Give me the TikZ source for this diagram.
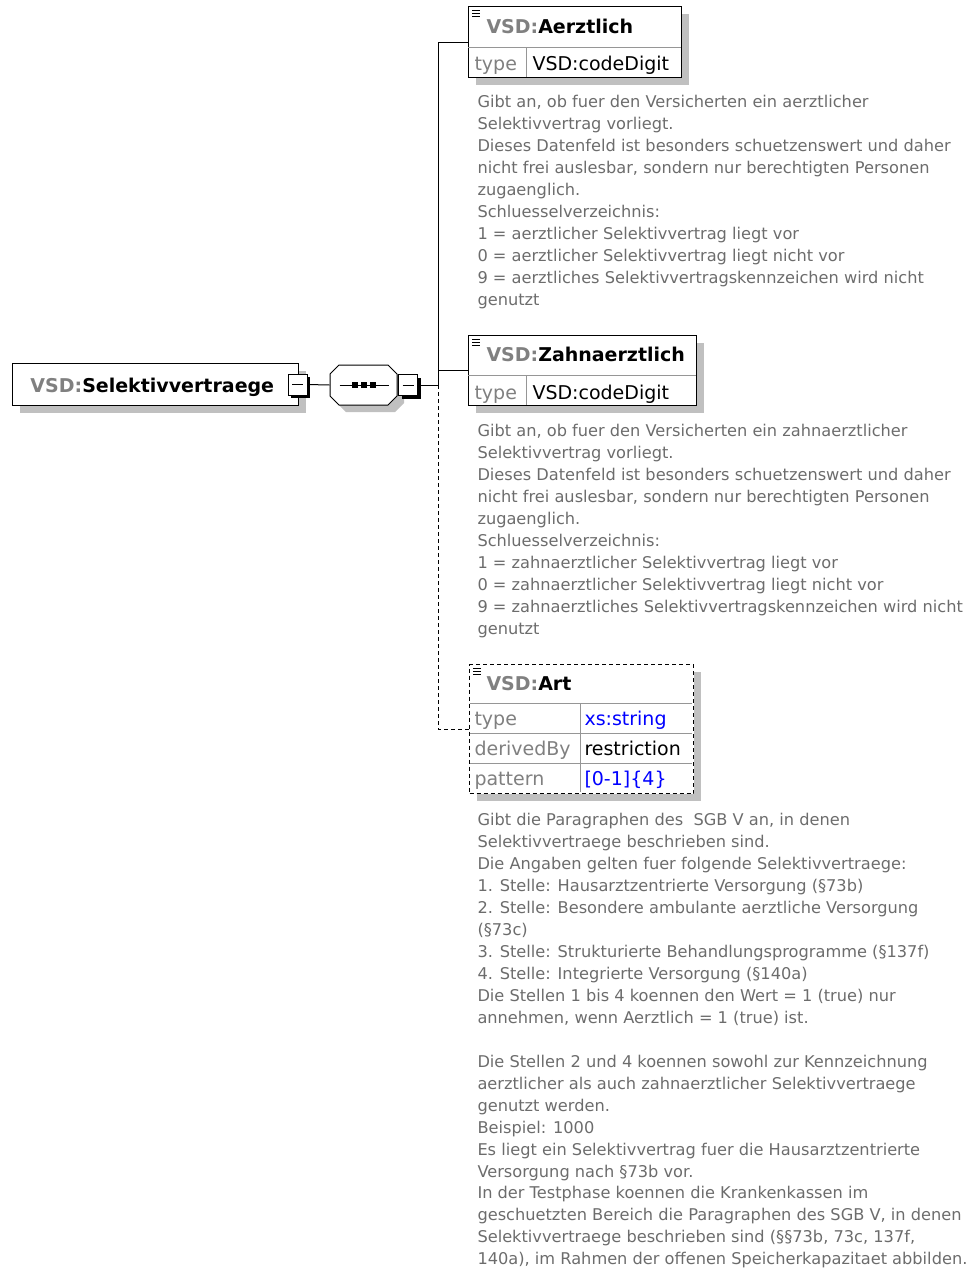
\documentclass[tikz,border=0pt]{standalone}
\usepackage{fontspec}
\setmainfont{DejaVu Sans}
\usetikzlibrary{shadows}

\definecolor{shadowgray}{RGB}{192,192,192}
\definecolor{nsgray}{RGB}{128,128,128}
\definecolor{docgray}{RGB}{108,108,108}
\definecolor{rowgray}{RGB}{150,150,150}
\definecolor{typeblue}{RGB}{0,0,255}

\newcommand{\ns}{\textcolor{nsgray}{VSD:}}

\tikzset{
  shadowed/.style={general shadow={fill=shadowgray, shadow xshift=7pt, shadow yshift=-7pt}},
  elembox/.style={draw, line width=1pt, fill=white, anchor=north west, inner sep=0pt, shadowed},
  minusbox/.style={draw, line width=1pt, fill=white, minimum width=19pt, minimum height=21pt, inner sep=0pt,
    general shadow={fill=black, shadow xshift=3pt, shadow yshift=-3pt},
    path picture={\draw ([xshift=4pt]path picture bounding box.west) -- ([xshift=-4pt]path picture bounding box.east);}},
  seqbox/.style={minimum width=67pt, minimum height=40pt, inner sep=0pt},
  octpath/.style={insert path={++(-24.5,-20) -- ++(49,0) -- ++(9,9) -- ++(0,22) -- ++(-9,9) -- ++(-49,0) -- ++(-9,-9) -- ++(0,-22) -- cycle}},
  ename/.style={anchor=base west, inner sep=0pt, font=\fontsize{19}{22}\selectfont\bfseries},
  cell/.style={anchor=base west, inner sep=0pt, font=\fontsize{19}{22}\selectfont},
  doc/.style={anchor=north west, inner sep=0pt, align=left, text=docgray, font=\fontsize{16.2}{21.95}\selectfont},
  rowline/.style={draw=rowgray, line width=1pt},
  dashedline/.style={dash pattern=on 4pt off 3pt},
}

\begin{document}
\begin{tikzpicture}[x=1pt,y=-1pt,line width=1pt]
\useasboundingbox (0,0) rectangle (974,1270);

% root element and sequence
\node[elembox, minimum width=286, minimum height=42] (root) at (12,363) {};
\node[ename] (rootname) at (30,392) {\ns Selektivvertraege};
\node[minusbox] (rootminus) at (297.5,384.5) {};
\node[seqbox] (seq) at (363.5,385) {};
\fill[shadowgray] ([xshift=7pt,yshift=-7pt]seq.center) [octpath];
\filldraw[fill=white] (seq.center) [octpath];
\draw ([xshift=10pt]seq.west) -- ([xshift=-9pt]seq.east);
\foreach \dx in {-9,0,9}
  \fill ([xshift=\dx pt]seq.center) +(-3,-3) rectangle +(3,3);
\node[minusbox] (seqminus) at (408,385) {};

\draw (rootminus.east) -- (seq.west);
\coordinate (bus) at (438,385);
\draw (seqminus.east) -- (bus);

% Aerztlich
\node[elembox, minimum width=213, minimum height=71] (aerzbox) at (468,6) {};
\draw[rowline] (468,47) -- (681,47) (526,47) -- (526,77);
\node[ename] (aerz) at (486,33) {\ns Aerztlich};
\node[cell, text=nsgray] (aerztype) at (474,70) {type};
\node[cell] (aerzval) at (532,70) {VSD:codeDigit};
\node[doc] (aerzdoc) at (477,95) {Gibt an, ob fuer den Versicherten ein aerztlicher\\
Selektivvertrag vorliegt.\\
Dieses Datenfeld ist besonders schuetzenswert und daher\\
nicht frei auslesbar, sondern nur berechtigten Personen\\
zugaenglich.\\
Schluesselverzeichnis:\\
1 = aerztlicher Selektivvertrag liegt vor\\
0 = aerztlicher Selektivvertrag liegt nicht vor\\
9 = aerztliches Selektivvertragskennzeichen wird nicht\\
genutzt};

% Zahnaerztlich
\node[elembox, minimum width=228, minimum height=70] (zahnbox) at (468,335) {};
\draw[rowline] (468,375) -- (696,375) (526,375) -- (526,405);
\node[ename] (zahn) at (486,361) {\ns Zahnaerztlich};
\node[cell, text=nsgray] (zahntype) at (474,399) {type};
\node[cell] (zahnval) at (532,399) {VSD:codeDigit};
\node[doc] (zahndoc) at (477,424) {Gibt an, ob fuer den Versicherten ein zahnaerztlicher\\
Selektivvertrag vorliegt.\\
Dieses Datenfeld ist besonders schuetzenswert und daher\\
nicht frei auslesbar, sondern nur berechtigten Personen\\
zugaenglich.\\
Schluesselverzeichnis:\\
1 = zahnaerztlicher Selektivvertrag liegt vor\\
0 = zahnaerztlicher Selektivvertrag liegt nicht vor\\
9 = zahnaerztliches Selektivvertragskennzeichen wird nicht\\
genutzt};

% Art (optional)
\node[elembox, dashedline, minimum width=224, minimum height=129] (artbox) at (469,664) {};
\draw[rowline] (470,703) -- (692,703) (470,733) -- (692,733) (470,763) -- (692,763) (580,703) -- (580,792);
\node[ename] (art) at (486,690) {\ns Art};
\node[cell, text=nsgray] (arttype) at (474,725) {type};
\node[cell, text=typeblue] (artval) at (584,725) {xs:string};
\node[cell, text=nsgray] (artderiv) at (474,755) {derivedBy};
\node[cell] (artderivval) at (584,755) {restriction};
\node[cell, text=nsgray] (artpat) at (474,785) {pattern};
\node[cell, text=typeblue] (artpatval) at (584,785) {[0-1]\{4\}};
\node[doc] (artdoc) at (477,813) {Gibt die Paragraphen des\ \ SGB V an, in denen\\
Selektivvertraege beschrieben sind.\\
Die Angaben gelten fuer folgende Selektivvertraege:\\
1. Stelle: Hausarztzentrierte Versorgung (§73b)\\
2. Stelle: Besondere ambulante aerztliche Versorgung\\
(§73c)\\
3. Stelle: Strukturierte Behandlungsprogramme (§137f)\\
4. Stelle: Integrierte Versorgung (§140a)\\
Die Stellen 1 bis 4 koennen den Wert = 1 (true) nur\\
annehmen, wenn Aerztlich = 1 (true) ist.\\[21.95pt]
Die Stellen 2 und 4 koennen sowohl zur Kennzeichnung\\
aerztlicher als auch zahnaerztlicher Selektivvertraege\\
genutzt werden.\\
Beispiel: 1000\\
Es liegt ein Selektivvertrag fuer die Hausarztzentrierte\\
Versorgung nach §73b vor.\\
In der Testphase koennen die Krankenkassen im\\
geschuetzten Bereich die Paragraphen des SGB V, in denen\\
Selektivvertraege beschrieben sind (§§73b, 73c, 137f,\\
140a), im Rahmen der offenen Speicherkapazitaet abbilden.};

% element icons
\foreach \b in {aerzbox,zahnbox,artbox}
  \foreach \dy in {4.5,7.5,10.5}
    \draw[line width=1.2pt] ([xshift=4pt,yshift=-\dy pt]\b.north west) -- ++(7.5,0);

% connectors
\draw (bus) |- (aerzbox.west);
\draw (bus) |- (zahnbox.west);
\draw[dashedline] (bus) |- (artbox.west);
\end{tikzpicture}
\end{document}
